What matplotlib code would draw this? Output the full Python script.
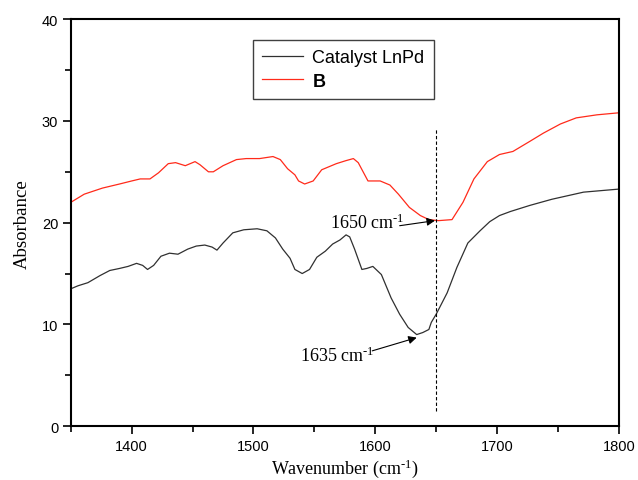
import matplotlib
matplotlib.use("Agg")
import matplotlib.pyplot as plt

# spectra
wn_b = [1350, 1361, 1376, 1390, 1400, 1407, 1415, 1422, 1430, 1436, 1444, 1452, 1456,
        1463, 1467, 1475, 1486, 1494, 1505, 1516, 1522, 1528, 1534, 1537, 1542, 1549,
        1556, 1568, 1576, 1582, 1586, 1594, 1604, 1612, 1619, 1628, 1637, 1644, 1652,
        1663, 1672, 1681, 1692, 1702, 1713, 1727, 1738, 1752, 1765, 1782, 1800]
abs_b = [22.0, 22.8, 23.4, 23.8, 24.1, 24.3, 24.3, 24.9, 25.8, 25.9, 25.6, 26.0, 25.7,
         25.0, 25.0, 25.6, 26.2, 26.3, 26.3, 26.5, 26.2, 25.3, 24.7, 24.1, 23.8, 24.1,
         25.2, 25.8, 26.1, 26.3, 25.9, 24.1, 24.1, 23.7, 22.8, 21.5, 20.7, 20.3, 20.2,
         20.3, 22.0, 24.3, 26.0, 26.7, 27.0, 28.0, 28.8, 29.7, 30.3, 30.6, 30.8]

wn_cat = [1350, 1356, 1364, 1374, 1382, 1390, 1397, 1404, 1409, 1413, 1418, 1424, 1431,
          1438, 1446, 1453, 1460, 1466, 1470, 1475, 1483, 1492, 1503, 1511, 1518, 1524,
          1530, 1534, 1540, 1546, 1552, 1559, 1565, 1571, 1576, 1579, 1583, 1589, 1593,
          1598, 1605, 1613, 1620, 1627, 1634, 1639, 1644, 1646, 1650, 1659, 1667, 1676,
          1686, 1694, 1702, 1711, 1727, 1745, 1771, 1800]
abs_cat = [13.5, 13.8, 14.1, 14.8, 15.3, 15.5, 15.7, 16.0, 15.8, 15.4, 15.8, 16.7, 17.0,
           16.9, 17.4, 17.7, 17.8, 17.6, 17.3, 18.0, 19.0, 19.3, 19.4, 19.2, 18.5, 17.4,
           16.5, 15.4, 15.0, 15.4, 16.6, 17.2, 17.9, 18.3, 18.8, 18.6, 17.4, 15.4, 15.5,
           15.7, 14.9, 12.6, 11.0, 9.7, 9.0, 9.2, 9.5, 10.2, 11.0, 13.1, 15.6, 18.0,
           19.2, 20.1, 20.7, 21.1, 21.7, 22.3, 23.0, 23.3]

plt.rcParams['mathtext.fontset'] = 'custom'
plt.rcParams['mathtext.rm'] = 'Liberation Serif'
plt.rcParams['mathtext.it'] = 'Liberation Serif:italic'

SUP = r'$^{\text{-1}}$'

fig = plt.figure(figsize=(6.38, 4.81), dpi=100)
ax = fig.add_axes([0.111, 0.112, 0.859, 0.846])

ax.plot(wn_cat, abs_cat, color='#303030', lw=0.9, label='Catalyst LnPd')
ax.plot(wn_b, abs_b, color='#ff2a1a', lw=0.9, label='B')

# marker line at 1650
ax.plot([1650, 1650], [1.5, 29.3], color='black', lw=0.8, dashes=(3, 2))

arrow = dict(arrowstyle='-|>', color='black', lw=0.8, mutation_scale=12, shrinkA=0, shrinkB=0)
ax.annotate('', xy=(1649, 20.2), xytext=(1620, 19.7), arrowprops=arrow)
ax.annotate('', xy=(1634, 8.7), xytext=(1597.5, 7.4), arrowprops=arrow)
ax.text(1563, 19.5, '1650 cm' + SUP, family='Liberation Serif',
        fontsize=13, va='baseline', ha='left')
ax.text(1538, 6.4, '1635 cm' + SUP, family='Liberation Serif',
        fontsize=13, va='baseline', ha='left')

ax.set_xlim(1350, 1800)
ax.set_ylim(0, 40)
ax.set_xticks([1400, 1500, 1600, 1700, 1800])
ax.set_xticks(range(1350, 1801, 50), minor=True)
ax.set_yticks([0, 10, 20, 30, 40])
ax.set_yticks(range(0, 41, 5), minor=True)
ax.tick_params(which='both', direction='out', top=False, right=False, width=1.2,
               labelsize=10.5, colors='black', pad=3)
ax.tick_params(which='major', length=6)
ax.tick_params(which='minor', length=4.5)
for lab in ax.get_xticklabels() + ax.get_yticklabels():
    lab.set_family('Liberation Sans')
for sp in ax.spines.values():
    sp.set_linewidth(1.5)

ax.set_xlabel('Wavenumber (cm' + SUP + ')', family='Liberation Serif',
              fontsize=13, labelpad=3)
ax.set_ylabel('Absorbance', family='Liberation Serif', fontsize=13.5, labelpad=8)

leg = ax.legend(loc='upper left', bbox_to_anchor=(0.332, 0.948), borderaxespad=0,
                fancybox=False, edgecolor='#404040', framealpha=1, handlelength=2.3,
                prop={'family': 'Liberation Sans', 'size': 13}, labelspacing=0.35,
                borderpad=0.5, handletextpad=0.5)
leg.get_frame().set_linewidth(1.0)
leg.get_texts()[1].set_fontweight('bold')

plt.savefig('out.png', dpi=100)
